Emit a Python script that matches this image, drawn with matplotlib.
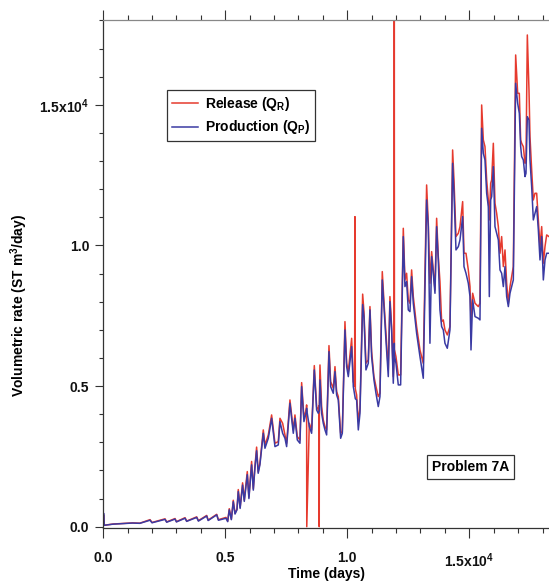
import matplotlib
matplotlib.use("Agg")
import matplotlib.pyplot as plt
from matplotlib.ticker import MultipleLocator
import numpy as np

plt.rcParams['font.family'] = ['Liberation Sans', 'DejaVu Sans']
plt.rcParams['font.weight'] = 'bold'
plt.rcParams['mathtext.fontset'] = 'custom'
plt.rcParams['mathtext.rm'] = 'Liberation Sans:bold'
plt.rcParams['mathtext.it'] = 'Liberation Sans:bold'
plt.rcParams['mathtext.bf'] = 'Liberation Sans:bold'

########################################################################################################
# values (time in days, rates in ST m3/day)

time_days = [
    0, 15, 40, 400, 800, 1200, 1500, 1918, 2000, 2532, 2600, 2942, 3000, 3352, 3420,
    3830, 3900, 4240, 4300, 4650, 4720, 5030, 5100, 5165, 5250, 5329, 5400, 5480, 5534,
    5610, 5711, 5780, 5903, 5970, 6080, 6150, 6217, 6285, 6350, 6420, 6559, 6627, 6764,
    6900, 7037, 7173, 7242, 7351, 7447, 7515, 7651, 7788, 7856, 7952, 8061, 8130, 8225,
    8325, 8334, 8340, 8444, 8539, 8649, 8744, 8813, 8845, 8851, 8857, 8881, 8949, 9017,
    9086, 9154, 9250, 9318, 9427, 9496, 9564, 9632, 9728, 9796, 9905, 9974, 10042, 10179,
    10247, 10300, 10315, 10330, 10383, 10452, 10520, 10630, 10683, 10765, 10861, 10929,
    10997, 11093, 11175, 11270, 11339, 11434, 11503, 11584, 11680, 11748, 11817, 11885,
    11920, 11926, 11932, 11994, 12090, 12186, 12295, 12363, 12431, 12500, 12568, 12636,
    12705, 12841, 12978, 13114, 13251, 13319, 13387, 13456, 13524, 13593, 13661, 13729,
    13797, 13866, 13934, 14002, 14098, 14207, 14316, 14372, 14454, 14550, 14618, 14727,
    14782, 14864, 14959, 15028, 15069, 15137, 15233, 15369, 15437, 15506, 15574, 15642,
    15711, 15779, 15820, 15875, 15916, 15984, 16052, 16120, 16189, 16257, 16325, 16394,
    16462, 16530, 16599, 16667, 16735, 16803, 16899, 16981, 17049, 17104, 17145, 17213,
    17282, 17322, 17377, 17445, 17486, 17555, 17623, 17691, 17760, 17828, 17896, 17965,
    18033, 18101, 18170, 18265,
]

release = [
    30, 420, 50, 95, 115, 135, 125, 250, 150, 280, 170, 290, 180, 320, 200,
    350, 215, 400, 235, 440, 250, 330, 200, 640, 270, 940, 480, 620, 1320,
    690, 1560, 950, 1960, 1050, 2320, 1350, 2150, 2830, 1950, 2260, 3441, 2907, 3260,
    3974, 2967, 3026, 3855, 3677, 3263, 2967, 4507, 3441, 3974, 3204, 3085, 5123, 3855,
    4200, 4330, 0, 3677, 3441, 5728, 4270, 4152, 4300, 0, 4500, 5751, 4270, 3796,
    3559, 3441, 6439, 5159, 4922, 5692, 4803, 4626, 3322, 3381, 7292, 5811, 5514, 6699,
    5159, 5000, 11025, 4900, 4685, 3737, 4211, 8270, 7649, 5812, 5931, 7827,
    6227, 5338, 4983, 4627, 4746, 9071, 8004, 6879, 5575, 8182, 7115, 5338,
    6400, 19500, 6300, 6049, 5397, 5397, 10611, 8775, 9012, 8064, 7945, 9130,
    8182, 7115, 6286, 5812, 12152, 10789, 8656, 9782, 9130, 8419, 10967, 9604,
    8715, 7293, 7352, 6997, 6819, 7115, 13396, 12330, 10316, 10434, 10671, 11560,
    9723, 9723, 9130, 8538, 7353, 8301, 7946, 7827, 7946, 14996, 13752, 13515,
    12330, 11619, 10908, 12212, 12330, 13634, 11501, 11145, 10671, 9723, 10316, 9249,
    9842, 8657, 7946, 8538, 8894, 9249, 16774, 15411, 15411, 13752, 13634, 13515,
    12923, 13041, 17485, 15530, 13871, 12686, 11619, 11856, 11856, 10908, 9960, 10671,
    9368, 9960, 10375, 10316,
]

production = [
    30, 480, 50, 90, 110, 130, 120, 230, 140, 260, 160, 270, 170, 300, 190,
    330, 200, 380, 220, 420, 230, 300, 180, 600, 250, 890, 450, 600, 1250,
    650, 1480, 900, 1850, 1000, 2200, 1300, 2100, 2700, 1900, 2200, 3322, 2789, 3144,
    3855, 2848, 2907, 3737, 3322, 3144, 2848, 4389, 3322, 3855, 3085, 2967, 4981, 3737,
    4100, 4211, 4150, 3559, 3322, 5573, 4152, 4033, 4100, 4120, 4150, 5218, 4033, 3678,
    3441, 3263, 6225, 4981, 4744, 5514, 4685, 4507, 3144, 3322, 6996, 5692, 5337, 6403,
    4981, 4700, 4626, 4550, 4507, 3441, 4033, 7900, 7471, 5575, 5812, 7708,
    6049, 5219, 4746, 4272, 4627, 8775, 7827, 6642, 5338, 8004, 6997, 5101,
    6000, 6523, 6100, 5812, 5042, 5042, 10315, 8538, 8715, 7708, 7649, 8893,
    7945, 6879, 6049, 5278, 11618, 10670, 6523, 9604, 9012, 8300, 10670, 9486,
    7708, 7115, 6997, 6523, 6345, 6997, 12922, 11856, 9842, 9960, 10197, 11027,
    9249, 9012, 8657, 8183, 6286, 8064, 7471, 7412, 7353, 14167, 13278, 13041,
    11856, 11382, 8183, 11619, 11737, 12804, 10671, 10434, 10197, 9130, 9012, 8538,
    9249, 8183, 7827, 8301, 8538, 8775, 15767, 15056, 14700, 13515, 13160, 13041,
    12449, 12567, 14581, 14463, 13041, 12093, 10908, 11145, 11382, 10553, 9486, 10316,
    8775, 9486, 9723, 9723,
]

x_ticks = [0, 5000, 10000, 15000]
x_tick_labels = ['0.0', '0.5', '1.0', '1.5x10$^{4}$']
y_ticks = [0, 5000, 10000, 15000]
y_tick_labels = ['0.0', '0.5', '1.0', '1.5x10$^{4}$']

########################################################################################################

fig = plt.figure(figsize=(5.49, 5.81), dpi=100)
ax = fig.add_axes([0.188, 0.0907, 0.812, 0.8749])

ax.plot(time_days, release, color='#e63a2e', lw=1.1, label='Release (Q$_{R}$)')
ax.plot(time_days, production, color='#3a3aa3', lw=1.1, label='Production (Q$_{P}$)')

ax.set_xlim(0, 18265)
ax.set_ylim(-57, 18018)

ax.set_xticks(x_ticks)
ax.set_xticklabels(x_tick_labels)
ax.set_yticks(y_ticks)
ax.set_yticklabels(y_tick_labels)
ax.xaxis.set_minor_locator(MultipleLocator(1000))
ax.yaxis.set_minor_locator(MultipleLocator(1000))

ax.tick_params(axis='x', which='major', direction='out', length=7.5, width=0.8,
               top=True, bottom=True, labelsize=10, pad=9, colors='#333333', labelcolor='#111111')
ax.tick_params(axis='x', which='minor', direction='out', length=3.5, width=0.8,
               top=True, bottom=True, colors='#333333')
ax.tick_params(axis='y', which='major', direction='out', length=6, width=0.8,
               labelsize=10, pad=4, colors='#333333', labelcolor='#111111')
ax.tick_params(axis='y', which='minor', direction='out', length=3, width=0.8, colors='#333333')

ax.spines['right'].set_visible(False)
for s in ['left', 'bottom']:
    ax.spines[s].set_color('#333333')
    ax.spines[s].set_linewidth(0.9)
ax.spines['top'].set_color('#888888')
ax.spines['top'].set_linewidth(0.9)

# axis titles placed in figure pixels, as in the reference
fig.text(326 / 549, 1 - 574 / 581, 'Time (days)', ha='center', va='center',
         fontsize=10, fontweight='bold')
fig.text(19 / 549, 1 - 306 / 581, 'Volumetric rate (ST m$^{3}$/day)', ha='center', va='center',
         rotation=90, fontsize=10, fontweight='bold')

leg = ax.legend(loc='upper left', bbox_to_anchor=(167 / 549, 1 - 90 / 581),
                bbox_transform=fig.transFigure, borderaxespad=0, fontsize=10,
                handlelength=1.9, handletextpad=0.5, borderpad=0.35, labelspacing=0.4,
                fancybox=False, framealpha=1)
leg.get_frame().set_edgecolor('#333333')
leg.get_frame().set_linewidth(0.9)

fig.text(470.5 / 549, 1 - 467 / 581, 'Problem 7A', ha='center', va='center', fontsize=10,
         fontweight='bold', bbox=dict(boxstyle='square,pad=0.35', fc='white', ec='#333333', lw=0.9))

fig.savefig('out.png', dpi=100)
